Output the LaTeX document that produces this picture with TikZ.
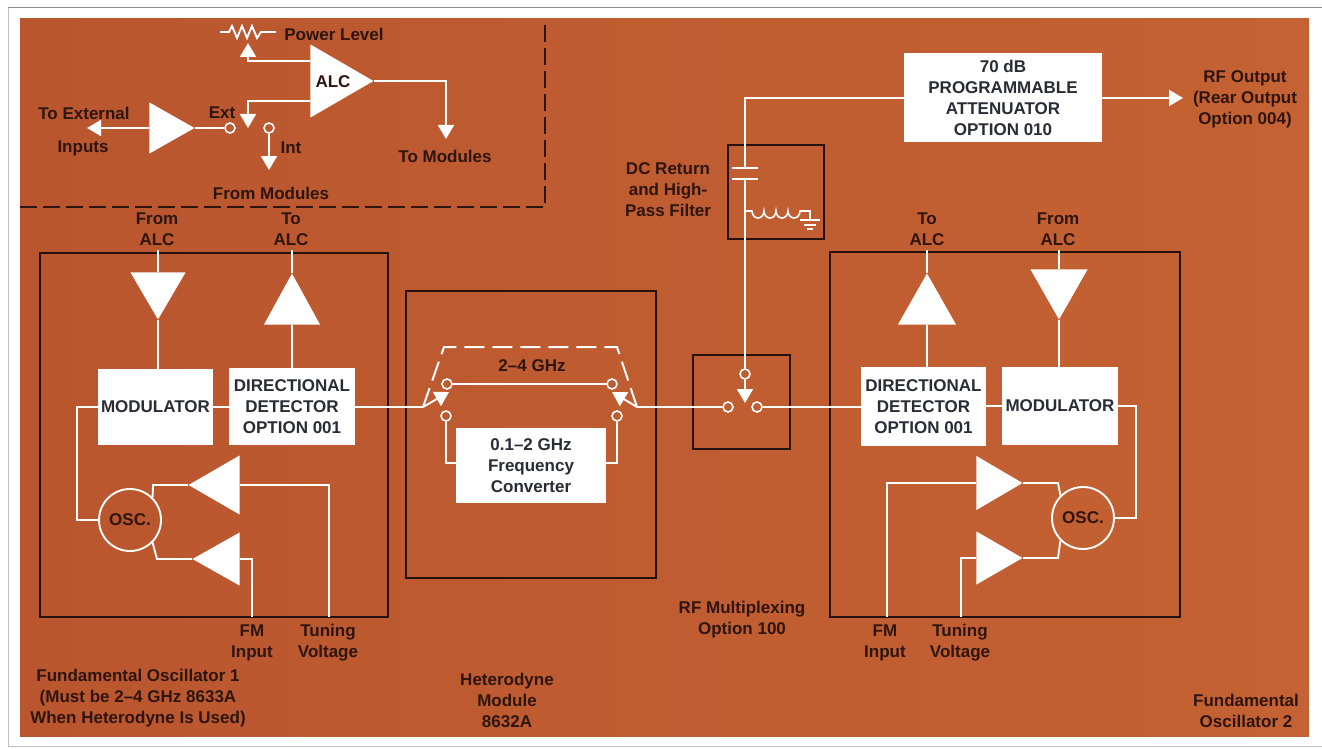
\documentclass[tikz,border=0pt]{standalone}
\usepackage{fontspec}
\setmainfont{Liberation Sans}
\usetikzlibrary{arrows.meta,shapes.geometric,calc}
\tikzset{>={Triangle[width=16pt,length=14pt]}}
\definecolor{rustl}{HTML}{B9562E}
\definecolor{rustr}{HTML}{C56233}
\definecolor{inkdark}{HTML}{2E1510}
\definecolor{inkbox}{HTML}{2B2B36}
\tikzset{
  wire/.style={draw=white,line width=1.9pt,line join=miter},
  frm/.style={draw=inkdark!80!black,line width=2pt,fill=none},
  dashline/.style={draw=inkdark,line width=2pt,dash pattern=on 17pt off 6pt},
  dashwhite/.style={draw=white,line width=2pt,dash pattern=on 20pt off 8pt},
  lbl/.style={text=inkdark,align=center,font=\fontsize{17}{21}\selectfont\bfseries,inner sep=0pt},
  block/.style={fill=white,text=inkbox,align=center,inner sep=0pt,
    font=\fontsize{17}{21}\selectfont\bfseries},
  term/.style={circle,draw=white,line width=1.6pt,inner sep=0pt,minimum size=10pt},
  osc/.style={circle,draw=white,line width=1.9pt,inner sep=0pt,minimum size=62pt,
    text=inkdark,font=\fontsize{17}{17}\selectfont\bfseries},
  amp/.style 2 args={isosceles triangle,isosceles triangle stretches,fill=white,
    inner sep=0pt,minimum width=#1,minimum height=#2},
}
\begin{document}
\begin{tikzpicture}[x=1pt,y=-1pt]
  \useasboundingbox (0,0) rectangle (1322,749);

  \fill[white] (0,0) rectangle (1322,749);
  \draw[black!45,line width=1pt] (8,8) -- (1322,8);
  \draw[black!25,line width=1pt] (8,8) -- (8,746) -- (1322,746);
  \shade[left color=rustl,right color=rustr] (20,19) rectangle (1309,736);

  %% ALC part, top left
  \draw[dashline] (20,207) -- (545,207) -- (545,20);
  \node[amp={73pt}{63pt},anchor=apex,shape border rotate=0] (alc) at (374,81) {};
  \node[amp={51pt}{45pt},anchor=apex,shape border rotate=0] (ampext) at (195,128) {};
  \node[lbl] (alctxt) at (333,82) {ALC};
  \node[term] (ext) at (230,128) {};
  \node[term] (int) at (269,128) {};
  \node[lbl] (powerlbl) at (334,34) {Power Level};
  \node[lbl] (extlbl) at (84,113) {To External};
  \node[lbl] (inplbl) at (83,148) {Inputs};
  \node[lbl] (extsw) at (222,113) {Ext};
  \node[lbl] (intsw) at (291,148) {Int};
  \node[lbl] (tomod) at (445,156) {To Modules};
  \node[lbl] (frommod) at (271,193) {From Modules};
  \coordinate (potl) at (220,32);
  \coordinate (potr) at (276,32);
  \coordinate (wiper) at (248,43);
  \coordinate (swtip) at (248,128);
  \coordinate (inptip) at (87,128);
  \coordinate (inttip) at (269,170);
  \coordinate (modtip) at (446,139);

  \draw[wire] (potl) -- ++(9,0) -- ++(3,-6) -- ++(5,12) -- ++(5,-12) -- ++(5,12)
    -- ++(5,-12) -- ++(5,12) -- ++(4,-6) -- (potr);
  \draw[wire,->] (alc.west |- 0,61) -- (248,61) -- (wiper);
  \draw[wire,->] (alc.west |- 0,101) -- (248,101) -- (swtip);
  \draw[wire,->] (alc.apex) -| (modtip);
  \draw[wire] (ampext.apex) -- (ext);
  \draw[wire,->] (ampext.lower side) -- (inptip);
  \draw[wire,->] (int) -- (inttip);

  %% oscillator 1
  \draw[frm] (40,253) rectangle (388,617);
  \node[lbl] (fromalca) at (157,229) {From\\ALC};
  \node[lbl] (toalca) at (291,229) {To\\ALC};
  \node[amp={55pt}{47pt},anchor=apex,shape border rotate=270] (downa) at (158,320) {};
  \node[amp={56pt}{51pt},anchor=apex,shape border rotate=90] (upa) at (292,273) {};
  \node[block,minimum width=115pt,minimum height=76pt] (moda) at (155.5,407) {MODULATOR};
  \node[block,minimum width=126pt,minimum height=77pt] (dira) at (292,406.5)
    {DIRECTIONAL\\DETECTOR\\OPTION 001};
  \node[osc] (osca) at (130,520) {OSC.};
  \node[amp={59pt}{51pt},anchor=apex,shape border rotate=180] (tuna) at (188,485) {};
  \node[amp={53pt}{47pt},anchor=apex,shape border rotate=180] (fma) at (192,559) {};
  \node[lbl] (fmlbla) at (252,643) {FM\\Input};
  \node[lbl] (tunlbla) at (328,643) {Tuning\\Voltage};
  \coordinate (fmina) at (252,617);
  \coordinate (tunina) at (329,617);
  \coordinate (fromtopa) at (158,250);
  \coordinate (totopa) at (292,250);

  \draw[wire] (fromtopa) -- (downa.lower side);
  \draw[wire] (downa.apex) -- (moda.north -| downa.apex);
  \draw[wire] (totopa) -- (upa.apex);
  \draw[wire] (upa.lower side) -- (dira.north -| upa.lower side);
  \draw[wire] (moda.east) -- (dira.west |- moda.east);
  \draw[wire] (moda.west) -- (77,407) |- (osca.west);
  \draw[wire] (tuna.apex) -- (153,485) -- (osca.45);
  \draw[wire] (fma.apex) -- (157,559) -- (osca.-45);
  \draw[wire] (tuna.lower side) -| (tunina);
  \draw[wire] (fma.lower side) -| (fmina);

  %% heterodyne module
  \draw[frm] (406,291) rectangle (656,578);
  \node[block,minimum width=150pt,minimum height=75pt] (conv) at (531,465.5)
    {0.1--2 GHz\\Frequency\\Converter};
  \node[lbl] (ghz) at (532,366) {2--4 GHz};
  \node[term] (ta) at (447,384) {};
  \node[term] (tb) at (612,384) {};
  \node[term] (tc) at (446,416) {};
  \node[term] (td) at (617,416) {};
  \coordinate (ja) at (423,407);
  \coordinate (jb) at (637,407);
  \coordinate (tipa) at (449,392);
  \coordinate (tipb) at (612,392);

  \draw[dashwhite] (ja) -- (444,347) -- (617,347) -- (jb);
  \draw[wire] (ta) -- (tb);
  \draw[wire] (tc) |- (conv.west |- 0,463);
  \draw[wire] (td) |- (conv.east |- 0,463);
  \draw[wire] (dira.east |- ja) -- (ja);
  \draw[wire,->] (ja) -- (tipa);
  \draw[wire,->] (jb) -- (tipb);

  %% multiplexer and filter
  \draw[frm] (693,355) rectangle (790,449);
  \node[term] (muxtop) at (745,374) {};
  \node[term] (muxl) at (728,407) {};
  \node[term] (muxr) at (757,407) {};
  \coordinate (muxtip) at (745,403);
  \draw[wire] (jb) -- (muxl);
  \draw[wire,->] (muxtop) -- (muxtip);

  \draw[frm] (728,145) rectangle (824,239);
  \node[block,minimum width=198pt,minimum height=89pt] (atten) at (1003,97.5)
    {70 dB\\PROGRAMMABLE\\ATTENUATOR\\OPTION 010};
  \coordinate (capa) at (745,168);
  \coordinate (capb) at (745,179);
  \coordinate (tapl) at (745,211);
  \coordinate (gnd) at (810,220);
  \coordinate (rftip) at (1183,98);
  \draw[wire] (atten.west |- 0,98) -| (capa);
  \draw[wire] (capb) -- (muxtop);
  \draw[wire] (732,168) -- (758,168);
  \draw[wire] (732,179) -- (758,179);
  \draw[wire,line width=1.6pt] (tapl) -- ++(7,0) arc (180:0:6 and 7) arc (180:0:6 and 7)
    arc (180:0:6 and 7) arc (180:0:6 and 7) -- ++(10,0) -- (gnd);
  \draw[wire,line width=1.5pt] (800,220) -- (820,220);
  \draw[wire,line width=1.5pt] (804,225) -- (816,225);
  \draw[wire,line width=1.5pt] (807,229) -- (813,229);
  \draw[wire,->] (atten.east |- 0,98) -- (rftip);
  \node[lbl] (rflbl) at (1245,99) {RF Output\\(Rear Output\\Option 004)};
  \node[lbl] (dclbl) at (668,189.5) {DC Return\\and High-\\Pass Filter};

  %% oscillator 2
  \draw[frm] (830,252) rectangle (1180,617);
  \node[lbl] (toalcb) at (927,229) {To\\ALC};
  \node[lbl] (fromalcb) at (1058,229) {From\\ALC};
  \node[amp={58pt}{51pt},anchor=apex,shape border rotate=90] (upb) at (927,273) {};
  \node[amp={57pt}{50pt},anchor=apex,shape border rotate=270] (downb) at (1059,320) {};
  \node[block,minimum width=125pt,minimum height=79pt] (dirb) at (923.5,406.5)
    {DIRECTIONAL\\DETECTOR\\OPTION 001};
  \node[block,minimum width=116pt,minimum height=78pt] (modb) at (1060,406)
    {MODULATOR};
  \node[osc] (oscb) at (1083,518) {OSC.};
  \node[amp={54pt}{46pt},anchor=apex,shape border rotate=0] (tunb) at (1023,483) {};
  \node[amp={53pt}{46pt},anchor=apex,shape border rotate=0] (fmb) at (1023,558) {};
  \node[lbl] (fmlblb) at (885,643) {FM\\Input};
  \node[lbl] (tunlblb) at (960,643) {Tuning\\Voltage};
  \coordinate (fminb) at (887,617);
  \coordinate (tuninb) at (961,617);
  \coordinate (totopb) at (927,250);
  \coordinate (fromtopb) at (1059,250);

  \draw[wire] (totopb) -- (upb.apex);
  \draw[wire] (upb.lower side) -- (dirb.north -| upb.lower side);
  \draw[wire] (fromtopb) -- (downb.lower side);
  \draw[wire] (downb.apex) -- (modb.north -| downb.apex);
  \draw[wire] (muxr) -- (dirb.west |- muxr);
  \draw[wire] (dirb.east |- modb.east) -- (modb.west);
  \draw[wire] (modb.east) -- (1136,406) |- (oscb.east);
  \draw[wire] (tunb.apex) -- (1058,483) -- (oscb.135);
  \draw[wire] (fmb.apex) -- (1058,558) -- (oscb.-135);
  \draw[wire] (tunb.lower side) -| (fminb);
  \draw[wire] (fmb.lower side) -| (tuninb);

  %% captions
  \node[lbl] (caposca) at (138,698) {Fundamental Oscillator 1\\(Must be 2--4 GHz 8633A\\When Heterodyne Is Used)};
  \node[lbl] (caphet) at (507,700.5) {Heterodyne\\Module\\8632A};
  \node[lbl] (capmux) at (742,620) {RF Multiplexing\\Option 100};
  \node[lbl] (caposcb) at (1246,710.5) {Fundamental\\Oscillator 2};
\end{tikzpicture}
\end{document}
